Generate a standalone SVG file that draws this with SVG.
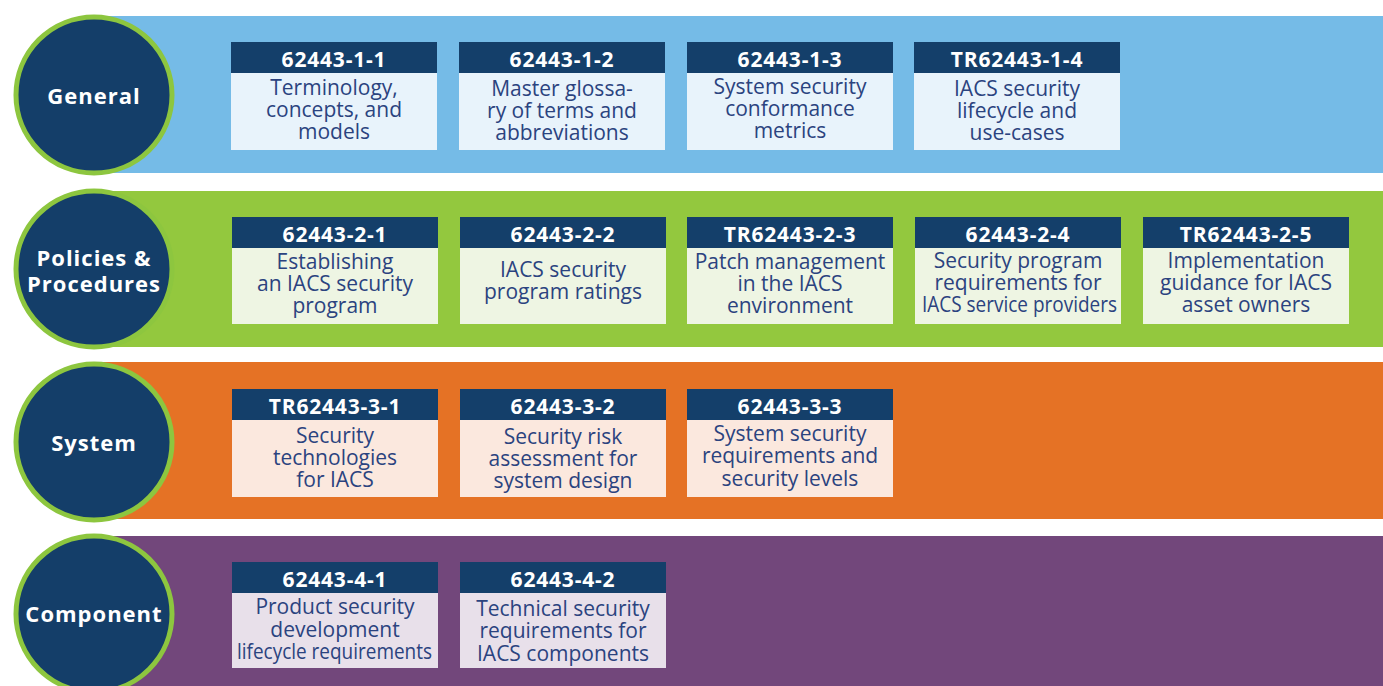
<svg xmlns="http://www.w3.org/2000/svg" width="1383" height="686" viewBox="0 0 1383 686">
<style>
.hdr{fill:#143F6A}
.hdrt{font-family:"Open Sans","Liberation Sans",sans-serif;font-weight:700;font-size:21px;letter-spacing:0.8px;fill:#ffffff;text-anchor:middle}
.body{font-family:"Open Sans","Liberation Sans",sans-serif;font-size:21px;fill:#2B437F;text-anchor:middle}
.ring{fill:#143E69;stroke:#8DC63F;stroke-width:5}
.lbl{font-family:"Open Sans","Liberation Sans",sans-serif;font-weight:700;font-size:22px;letter-spacing:1px;fill:#ffffff;text-anchor:middle}
.b1{fill:#E8F3FB}.b2{fill:#EEF5E3}.b3{fill:#FBE8DE}.b4{fill:#E8E0EA}
</style>
<rect width="1383" height="686" fill="#ffffff"/>
<g id="bands">
<rect x="94" y="16" width="1289" height="157" fill="#75BBE7"/>
<rect x="94" y="191" width="1289" height="156" fill="#93C83E"/>
<rect x="94" y="362" width="1289" height="157" fill="#E57225"/>
<rect x="94" y="536" width="1289" height="150" fill="#72477B"/>
</g>
<g id="connectors"/>
<g id="general">
<circle class="ring" cx="94" cy="95" r="78"/>
<text class="lbl" x="94" y="104">General</text>
</g>
<g id="policies">
<circle class="ring" cx="94" cy="269" r="78"/>
<text class="lbl" x="94" y="266">Policies &amp;</text>
<text class="lbl" x="94" y="292">Procedures</text>
</g>
<g id="system">
<circle class="ring" cx="94" cy="442" r="78"/>
<text class="lbl" x="94" y="451">System</text>
</g>
<g id="component">
<circle class="ring" cx="94" cy="614" r="78"/>
<text class="lbl" x="94" y="622">Component</text>
</g>

<g id="n-1-1"><rect class="hdr" x="231" y="42" width="206" height="31"/><rect class="b1" x="231" y="73" width="206" height="77"/>
<text class="hdrt" x="334" y="67">62443-1-1</text>
<text class="body" x="334" y="95">Terminology,</text><text class="body" x="334" y="117">concepts, and</text><text class="body" x="334" y="139">models</text></g>
<g id="n-1-2"><rect class="hdr" x="459" y="42" width="206" height="31"/><rect class="b1" x="459" y="73" width="206" height="77"/>
<text class="hdrt" x="562" y="67">62443-1-2</text>
<text class="body" x="562" y="96">Master glossa-</text><text class="body" x="562" y="118">ry of terms and</text><text class="body" x="562" y="140">abbreviations</text></g>
<g id="n-1-3"><rect class="hdr" x="687" y="42" width="206" height="31"/><rect class="b1" x="687" y="73" width="206" height="77"/>
<text class="hdrt" x="790" y="67">62443-1-3</text>
<text class="body" x="790" y="94">System security</text><text class="body" x="790" y="116">conformance</text><text class="body" x="790" y="138">metrics</text></g>
<g id="n-1-4"><rect class="hdr" x="914" y="42" width="206" height="31"/><rect class="b1" x="914" y="73" width="206" height="77"/>
<text class="hdrt" x="1017" y="67">TR62443-1-4</text>
<text class="body" x="1017" y="96">IACS security</text><text class="body" x="1017" y="118">lifecycle and</text><text class="body" x="1017" y="140">use-cases</text></g>

<g id="n-2-1"><rect class="hdr" x="232" y="217" width="206" height="31"/><rect class="b2" x="232" y="248" width="206" height="76"/>
<text class="hdrt" x="335" y="242">62443-2-1</text>
<text class="body" x="335" y="269">Establishing</text><text class="body" x="335" y="291">an IACS security</text><text class="body" x="335" y="313">program</text></g>
<g id="n-2-2"><rect class="hdr" x="460" y="217" width="206" height="31"/><rect class="b2" x="460" y="248" width="206" height="76"/>
<text class="hdrt" x="563" y="242">62443-2-2</text>
<text class="body" x="563" y="277">IACS security</text><text class="body" x="563" y="299">program ratings</text></g>
<g id="n-2-3"><rect class="hdr" x="687" y="217" width="206" height="31"/><rect class="b2" x="687" y="248" width="206" height="76"/>
<text class="hdrt" x="790" y="242">TR62443-2-3</text>
<text class="body" x="790" y="269">Patch management</text><text class="body" x="790" y="291">in the IACS</text><text class="body" x="790" y="313">environment</text></g>
<g id="n-2-4"><rect class="hdr" x="915" y="217" width="206" height="31"/><rect class="b2" x="915" y="248" width="206" height="76"/>
<text class="hdrt" x="1018" y="242">62443-2-4</text>
<text class="body" x="1018" y="268">Security program</text><text class="body" x="1018" y="290">requirements for</text><text class="body" x="1019.5" y="312" textLength="195" lengthAdjust="spacingAndGlyphs">IACS service providers</text></g>
<g id="n-2-5"><rect class="hdr" x="1143" y="217" width="206" height="31"/><rect class="b2" x="1143" y="248" width="206" height="76"/>
<text class="hdrt" x="1246" y="242">TR62443-2-5</text>
<text class="body" x="1246" y="268">Implementation</text><text class="body" x="1246" y="290">guidance for IACS</text><text class="body" x="1246" y="312">asset owners</text></g>

<g id="n-3-1"><rect class="hdr" x="232" y="389" width="206" height="31"/><rect class="b3" x="232" y="420" width="206" height="77"/>
<text class="hdrt" x="335" y="414">TR62443-3-1</text>
<text class="body" x="335" y="443">Security</text><text class="body" x="335" y="465">technologies</text><text class="body" x="335" y="487">for IACS</text></g>
<g id="n-3-2"><rect class="hdr" x="460" y="389" width="206" height="31"/><rect class="b3" x="460" y="420" width="206" height="77"/>
<text class="hdrt" x="563" y="414">62443-3-2</text>
<text class="body" x="563" y="444">Security risk</text><text class="body" x="563" y="466">assessment for</text><text class="body" x="563" y="488">system design</text></g>
<g id="n-3-3"><rect class="hdr" x="687" y="389" width="206" height="31"/><rect class="b3" x="687" y="420" width="206" height="77"/>
<text class="hdrt" x="790" y="414">62443-3-3</text>
<text class="body" x="790" y="441">System security</text><text class="body" x="790" y="463">requirements and</text><text class="body" x="790" y="486">security levels</text></g>

<g id="n-4-1"><rect class="hdr" x="232" y="562" width="206" height="31"/><rect class="b4" x="232" y="593" width="206" height="75"/>
<text class="hdrt" x="335" y="587">62443-4-1</text>
<text class="body" x="335" y="614">Product security</text><text class="body" x="335" y="637">development</text><text class="body" x="334.5" y="659" textLength="195" lengthAdjust="spacingAndGlyphs">lifecycle requirements</text></g>
<g id="n-4-2"><rect class="hdr" x="460" y="562" width="206" height="31"/><rect class="b4" x="460" y="593" width="206" height="75"/>
<text class="hdrt" x="563" y="587">62443-4-2</text>
<text class="body" x="563" y="616">Technical security</text><text class="body" x="563" y="638">requirements for</text><text class="body" x="563" y="661">IACS components</text></g>
</svg>
